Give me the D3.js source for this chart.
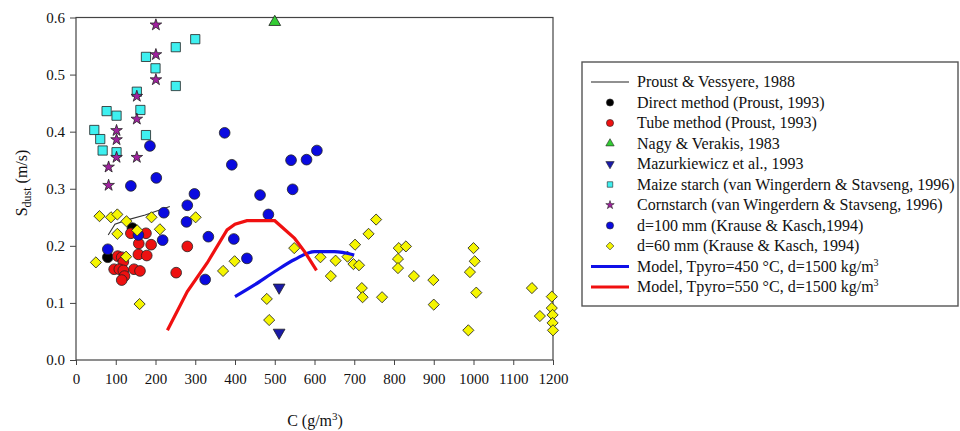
<!DOCTYPE html>
<html lang="en">
  <head>
    <meta charset="utf-8">
    <script src="https://d3js.org/d3.v7.min.js"></script>
    <title>Sdust vs C</title>
    <style>
      body { margin: 0; background: #fff; }
      svg text { font-family: "Liberation Serif", "DejaVu Serif", serif; fill: #111; }
    </style>
  </head>
  <body>
    <script>
    // data: [C (g/m3), Sdust (m/s)]
    var proustLine = [[81,0.219],[98,0.238],[127,0.245],[174,0.254],[236,0.269]];
    var directData = [[80,0.18],[142,0.231]];
    var tubeData = [[138,0.222],[176,0.222],[158,0.204],[189,0.202],[280,0.199],[105,0.182],[115,0.18],
      [157,0.185],[178,0.183],[119,0.172],[96,0.159],[109,0.159],[119,0.157],[146,0.159],[161,0.156],
      [122,0.147],[115,0.14],[252,0.153]];
    var nagyData = [[500,0.592]];
    var mazurData = [[511,0.127],[511,0.048]];
    var maizeData = [[300,0.562],[251,0.548],[176,0.531],[200,0.511],[251,0.48],[153,0.47],[162,0.438],
      [77,0.436],[102,0.428],[46,0.403],[61,0.387],[176,0.394],[67,0.367],[102,0.364]];
    var cornData = [[201,0.587],[201,0.535],[201,0.491],[153,0.462],[153,0.422],[102,0.402],[102,0.386],
      [102,0.355],[153,0.355],[82,0.338],[82,0.306]];
    var d100Data = [[186,0.375],[374,0.398],[392,0.342],[202,0.319],[138,0.305],[221,0.258],[280,0.271],
      [298,0.291],[278,0.242],[333,0.216],[218,0.21],[397,0.212],[430,0.178],[325,0.141],[463,0.289],
      [80,0.194],[157,0.219],[606,0.367],[541,0.35],[580,0.351],[545,0.299],[484,0.255]];
    var d60Data = [[59,0.252],[88,0.25],[104,0.255],[127,0.243],[190,0.25],[211,0.229],[154,0.227],
      [104,0.221],[301,0.25],[126,0.181],[50,0.171],[160,0.098],[370,0.156],[399,0.173],[549,0.196],
      [615,0.18],[653,0.174],[683,0.181],[702,0.202],[736,0.221],[755,0.246],[698,0.168],[712,0.166],
      [641,0.147],[812,0.196],[830,0.199],[810,0.177],[810,0.161],[850,0.147],[899,0.14],[480,0.107],
      [486,0.07],[719,0.126],[721,0.11],[770,0.11],[900,0.097],[1000,0.196],[1003,0.173],[991,0.154],
      [1007,0.118],[987,0.052],[1147,0.126],[1167,0.077],[1197,0.111],[1197,0.091],[1199,0.079],
      [1199,0.065],[1200,0.052]];
    var model450 = [[400,0.111],[450,0.132],[500,0.155],[550,0.176],[600,0.19],[650,0.19],[700,0.184]];
    var model550 = [[230,0.052],[280,0.12],[330,0.17],[380,0.228],[400,0.238],[430,0.244],[500,0.244],
      [550,0.213],[575,0.19],[605,0.157]];

    var xTicks = [0,100,200,300,400,500,600,700,800,900,1000,1100,1200];
    var yTicks = [0,0.1,0.2,0.3,0.4,0.5,0.6];

    var serif = '"Liberation Serif", "DejaVu Serif", serif';

    var margin = {top: 17.5, left: 76, bottom: 71, right: 407},
      width = 960 - margin.left - margin.right,
      height = 431 - margin.top - margin.bottom;

    var x = d3.scaleLinear().domain([0, 1200]).range([0, width]);
    var y = d3.scaleLinear().domain([0, 0.6]).range([height, 0]);

    var root = d3.select("body").append("svg")
      .attr("width", 960).attr("height", 431)
      .attr("font-family", serif);
    var svg = root.append("g")
      .attr("transform", "translate(" + [margin.left, margin.top] + ")");

    // axes
    var xAxis = svg.append("g")
      .attr("transform", "translate(0," + height + ")")
      .call(d3.axisBottom(x).tickValues(xTicks).tickSize(5).tickPadding(8).tickFormat(d3.format("d")));
    var yAxis = svg.append("g")
      .call(d3.axisLeft(y).tickValues(yTicks).tickSize(6).tickPadding(5).tickFormat(d3.format(".1f")));
    [xAxis, yAxis].forEach(function(a) {
      a.attr("font-family", serif).attr("font-size", 15);
      a.select(".domain").remove();
      a.selectAll("line").attr("stroke", "#444");
      a.selectAll("text").attr("fill", "#111");
    });

    // frame
    svg.append("rect")
      .attr("width", width).attr("height", height)
      .attr("fill", "none").attr("stroke", "#444").attr("stroke-width", 1.2);

    var line = d3.line().x(function(d){ return x(d[0]); }).y(function(d){ return y(d[1]); });

    function points(data, type, size, fill, rot) {
      svg.append("g").selectAll("path")
        .data(data).enter().append("path")
          .attr("d", d3.symbol().type(type).size(size))
          .attr("transform", function(d){
            return "translate(" + x(d[0]) + "," + y(d[1]) + ")" + (rot ? " rotate(" + rot + ")" : "");
          })
          .attr("fill", fill)
          .attr("stroke", "#222")
          .attr("stroke-width", 0.8);
    }

    svg.append("path").datum(proustLine)
      .attr("d", line).attr("fill", "none").attr("stroke", "#333").attr("stroke-width", 1.1);

    points(directData, d3.symbolCircle, 90, "#000");
    points(tubeData, d3.symbolCircle, 90, "#ee1111");
    points(nagyData, d3.symbolTriangle, 60, "#33cc33");
    points(mazurData, d3.symbolTriangle, 60, "#1a1aa8", 180);
    points(maizeData, d3.symbolSquare, 85, "#3ef0f0");
    points(cornData, d3.symbolStar, 42, "#a0209f");
    points(d100Data, d3.symbolCircle, 90, "#0a0ae0");
    points(d60Data, d3.symbolSquare, 62, "#f5f500", 45);

    svg.append("path").datum(model450)
      .attr("d", d3.line().curve(d3.curveMonotoneX).x(function(d){ return x(d[0]); }).y(function(d){ return y(d[1]); }))
      .attr("fill", "none").attr("stroke", "#1010e8").attr("stroke-width", 3.2);
    svg.append("path").datum(model550)
      .attr("d", line)
      .attr("fill", "none").attr("stroke", "#f01010").attr("stroke-width", 3.2);

    // axis titles
    var yl = root.append("text")
      .attr("transform", "translate(27,183) rotate(-90)")
      .attr("text-anchor", "middle")
      .attr("font-size", 16);
    yl.append("tspan").text("S");
    yl.append("tspan").attr("dy", 4).attr("font-size", 12).text("dust");
    yl.append("tspan").attr("dy", -4).text(" (m/s)");

    var xl = root.append("text")
      .attr("x", 315).attr("y", 426)
      .attr("text-anchor", "middle")
      .attr("font-size", 16);
    xl.append("tspan").text("C (g/m");
    xl.append("tspan").attr("dy", -6).attr("font-size", 11).text("3");
    xl.append("tspan").attr("dy", 6).text(")");

    // legend
    var legendItems = [
      {label: "Proust & Vessyere, 1988", kind: "line", color: "#222", w: 1.1},
      {label: "Direct method (Proust, 1993)", kind: "pt", type: d3.symbolCircle, fill: "#000"},
      {label: "Tube method (Proust, 1993)", kind: "pt", type: d3.symbolCircle, fill: "#ee1111"},
      {label: "Nagy & Verakis, 1983", kind: "pt", type: d3.symbolTriangle, fill: "#33cc33"},
      {label: "Mazurkiewicz et al., 1993", kind: "pt", type: d3.symbolTriangle, fill: "#1a1aa8", rot: 180},
      {label: "Maize starch (van Wingerdern & Stavseng, 1996)", kind: "pt", type: d3.symbolSquare, fill: "#3ef0f0"},
      {label: "Cornstarch (van Wingerdern & Stavseng, 1996)", kind: "pt", type: d3.symbolStar, fill: "#a0209f"},
      {label: "d=100 mm (Krause & Kasch,1994)", kind: "pt", type: d3.symbolCircle, fill: "#0a0ae0"},
      {label: "d=60 mm (Krause & Kasch, 1994)", kind: "pt", type: d3.symbolSquare, fill: "#f5f500", rot: 45},
      {label: "Model, Tpyro=450 °C, d=1500 kg/m", sup: "3", kind: "line", color: "#1010e8", w: 3.2},
      {label: "Model, Tpyro=550 °C, d=1500 kg/m", sup: "3", kind: "line", color: "#f01010", w: 3.2}
    ];

    var legend = root.append("g");
    legend.append("rect")
      .attr("x", 582).attr("y", 62).attr("width", 376).attr("height", 244)
      .attr("fill", "#fff").attr("stroke", "#555").attr("stroke-width", 1.4);

    var rows = legend.selectAll(".row").data(legendItems).enter().append("g")
      .attr("class", "row")
      .attr("transform", function(d, i){ return "translate(0," + (82 + i * 20.5) + ")"; });

    rows.each(function(d) {
      var g = d3.select(this);
      if (d.kind === "line") {
        g.append("line").attr("x1", 591).attr("x2", 629).attr("y1", 0).attr("y2", 0)
          .attr("stroke", d.color).attr("stroke-width", d.w);
      } else {
        var sz = d.type === d3.symbolCircle ? 40 : (d.type === d3.symbolStar ? 22 : 30);
        g.append("path")
          .attr("d", d3.symbol().type(d.type).size(sz)())
          .attr("transform", "translate(610,0)" + (d.rot ? " rotate(" + d.rot + ")" : ""))
          .attr("fill", d.fill).attr("stroke", "#222").attr("stroke-width", 0.6);
      }
      var t = g.append("text").attr("x", 637).attr("y", 5).attr("font-size", 16);
      t.append("tspan").text(d.label);
      if (d.sup) t.append("tspan").attr("dy", -6).attr("font-size", 10).text(d.sup);
    });
    </script>
  </body>
</html>
